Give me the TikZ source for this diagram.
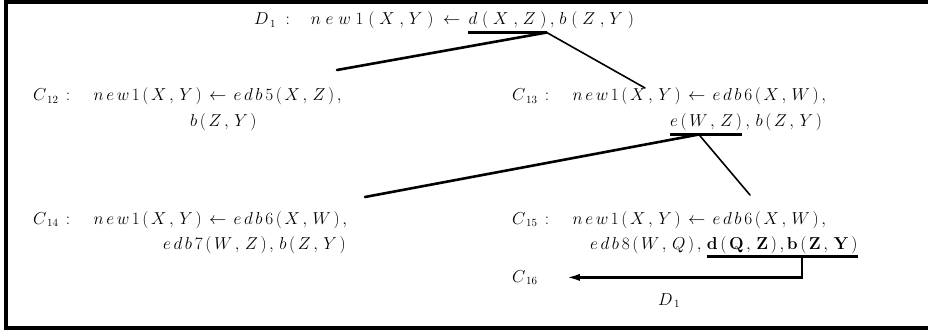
\documentclass[tikz,border=0pt]{standalone}
\usepackage{amsmath}
\usepackage{tikz}
\usetikzlibrary{arrows.meta,positioning,calc}
% letter-spaced math, one token (or one {group}) at a time
\def\spgap{2.7mu}
\def\spEnd{}
\def\spEndM{\spEnd}
\def\spB#1{{#1}\spA}
\def\spA#1{\def\sptmp{#1}\ifx\sptmp\spEndM\else\mkern\spgap\relax{#1}\expandafter\spA\fi}
\newcommand{\lsp}[1]{$\spB#1\spEnd$}
\newcommand{\wsp}[1]{{\def\spgap{5mu}\lsp{#1}}}
\newcommand{\hd}{{\;:\quad\;}}
\newcommand{\cm}{{,\,}}
\tikzset{
  cl/.style={anchor=base west, inner sep=0pt},
  ul/.style={line width=3pt},
  brk/.style={line width=2.6pt, line cap=round},
  brt/.style={line width=1.6pt, line cap=round},
  frame/.style={line width=4pt},
  flow/.style={-{Latex[length=14pt, width=7pt]}, line width=2.6pt},
}
\begin{document}
\begin{tikzpicture}[x=1pt, y=-1pt, font=\fontsize{16}{19}\selectfont]
  \useasboundingbox (0,0) rectangle (928,331);
  \draw[frame] (928,2) -- (6,2) -- (6,328) -- (928,328);
  % D1 clause
  \node[cl] (d1a) at (254,25) {\wsp{{D_{\,1}} {\;:\quad} n e w 1 ( X , Y ) {\;\leftarrow\;}}};
  \node[cl] (d1u) at ([xshift=3pt]d1a.base east) {\wsp{d ( X , Z )}};
  \node[cl] (d1b) at ([xshift=3pt]d1u.base east) {\wsp{, b ( Z , Y )}};
  \draw[ul] ([yshift=-3pt]d1u.south west) -- ([yshift=-3pt]d1u.south east) coordinate (j1);
  \coordinate (e12) at (337,70);
  \coordinate (e13) at (645,88);
  \draw[brk] (j1) -- (e12);
  \draw[brt] (j1) -- (e13);
  % C12, C13
  \node[cl] (c12a) at (33,101) {\lsp{{C_{\,12}} \hd n e w 1 ( X \cm Y ) {\;\leftarrow\;} e d b 5 ( X \cm Z ) ,}};
  \node[cl] (c12b) at (190,127) {\lsp{b ( Z \cm Y )}};
  \node[cl] (c13a) at (512,101) {\lsp{{C_{\,13}} \hd n e w 1 ( X \cm Y ) {\;\leftarrow\;} e d b 6 ( X \cm W ) ,}};
  \node[cl] (c13u) at (670,127) {\lsp{e ( W \cm Z )}};
  \node[cl] (c13b) at ([xshift=3pt]c13u.base east) {\lsp{\cm b ( Z \cm Y )}};
  \draw[ul] ([yshift=-3pt]c13u.south west) -- ([yshift=-3pt]c13u.south east);
  \coordinate (j2) at ($([yshift=-3pt]c13u.south west)!0.4!([yshift=-3pt]c13u.south east)$);
  \coordinate (e14) at (365,197);
  \coordinate (e15) at (750,195);
  \draw[brk] (j2) -- (e14);
  \draw[brt] (j2) -- (e15);
  % C14, C15
  \node[cl] (c14a) at (33,224) {\lsp{{C_{\,14}} \hd n e w 1 ( X \cm Y ) {\;\leftarrow\;} e d b 6 ( X \cm W ) ,}};
  \node[cl] (c14b) at (163,249) {\lsp{e d b 7 ( W \cm Z ) \cm b ( Z \cm Y )}};
  \node[cl] (c15a) at (512,224) {\lsp{{C_{\,15}} \hd n e w 1 ( X \cm Y ) {\;\leftarrow\;} e d b 6 ( X \cm W ) ,}};
  \node[cl] (c15b) at (590,249) {\lsp{e d b 8 ( W \cm Q ) ,}};
  \node[cl] (c15u) at ([xshift=5pt]c15b.base east) {\lsp{{\mathbf{d}} {\mathbf{(}} {\mathbf{Q}} \cm {\mathbf{Z}} {\mathbf{)}} , {\mathbf{b}} {\mathbf{(}} {\mathbf{Z}} \cm {\mathbf{Y}} {\mathbf{)}}}};
  \draw[ul] ([yshift=-3pt]c15u.south west) -- ([yshift=-3pt]c15u.south east);
  \coordinate (t15) at ($([yshift=-3pt]c15u.south west)!0.63!([yshift=-3pt]c15u.south east)$);
  % C16
  \node[cl] (c16) at (512,282) {$C_{\,16}$};
  \draw[flow] (t15) |- ([xshift=28pt]c16.east);
  \node[cl] (lab) at (658,305) {$D_{\,1}$};
\end{tikzpicture}
\end{document}
